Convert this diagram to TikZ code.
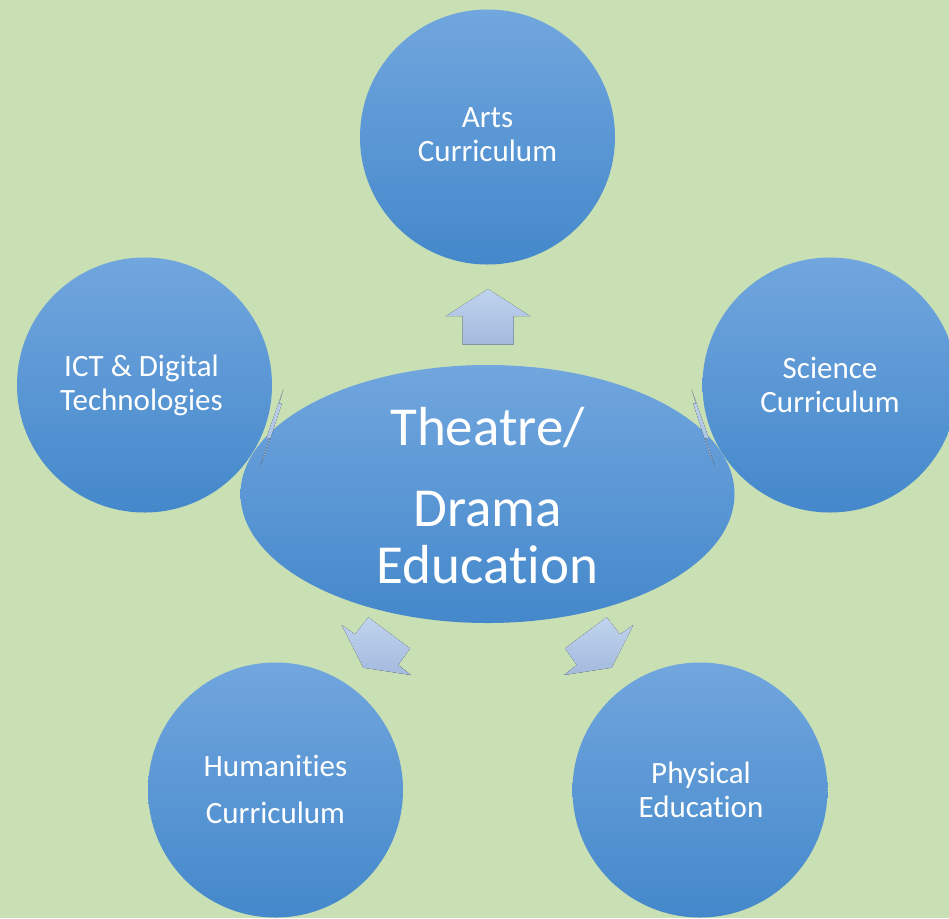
\documentclass[tikz,border=0pt]{standalone}
\usepackage{fontspec}
\setmainfont{Carlito}[Ligatures={NoCommon}]
\usetikzlibrary{shapes.geometric}
\definecolor{bg}{RGB}{201,224,181}
\definecolor{ctop}{RGB}{113,166,222}
\definecolor{cbot}{RGB}{68,136,203}
\definecolor{atop}{RGB}{192,212,238}
\definecolor{abot}{RGB}{163,186,222}
\tikzset{
  topic/.style={circle, minimum size=255pt, inner sep=0pt, top color=ctop, bottom color=cbot, draw=none},
  topictext/.style={text=white, align=center, inner sep=0pt, font=\fontsize{31}{34}\selectfont},
  hub/.style={ellipse, minimum width=494pt, minimum height=258pt, inner sep=0pt, top color=ctop, bottom color=cbot, draw=none},
  hubtext/.style={text=white, align=center, font=\fontsize{55}{57}\selectfont},
  blockarrow/.style={top color=atop, bottom color=abot, draw=none}
}
\begin{document}
\begin{tikzpicture}[x=1pt,y=-1pt]
\useasboundingbox (0,0) rectangle (949,918);
\clip (0,0) rectangle (949,918);
\fill[bg] (0,0) rectangle (949,918);
\node[topic] (arts) at (487.5,137) {};
\node[topic] (ict) at (144.5,385) {};
\node[topic] (sci) at (830,385) {};
\node[topic] (hum) at (275.5,790) {};
\node[topic] (pe) at (700,790) {};
\node[topictext] (artst) at (487.5,135) {Arts\\Curriculum};
\node[topictext] (ictt) at (141.5,385) {ICT \& Digital\\Technologies};
\node[topictext] (scit) at (830,385) {Science\\Curriculum};
\node[topictext] (humt) at (275.5,789) {Humanities\\[13pt]Curriculum};
\node[topictext] (pet) at (701,790) {Physical\\Education};
\node[hub] (hub) at (487.5,494) {};
\node[hubtext] (hubt) at (487.5,496) {Theatre/\\[24pt]Drama\\Education};
% block arrows
\fill[blockarrow] (488,289) -- (530,316) -- (513.5,316) -- (513.5,344.5) -- (462.5,344.5) -- (462.5,316) -- (446,316) -- cycle;
\fill[blockarrow] (363.3,667.7) -- (411,675) -- (398.3,665) -- (410,648.3) -- (368.3,617.3) -- (355,634.3) -- (341.7,625) -- cycle;
\fill[blockarrow] (611.7,667.7) -- (564,675) -- (576.7,665) -- (565,648.3) -- (606.7,617.3) -- (620,634.3) -- (633.3,625) -- cycle;
\fill[blockarrow] (283.5,389) -- (279,404) -- (282,403) -- (266,452) -- (260,466) -- (270,438) -- (266,439) -- cycle;
\fill[blockarrow] (691.5,389) -- (696,404) -- (693,403) -- (709,452) -- (715,466) -- (705,438) -- (709,439) -- cycle;
\end{tikzpicture}
\end{document}
